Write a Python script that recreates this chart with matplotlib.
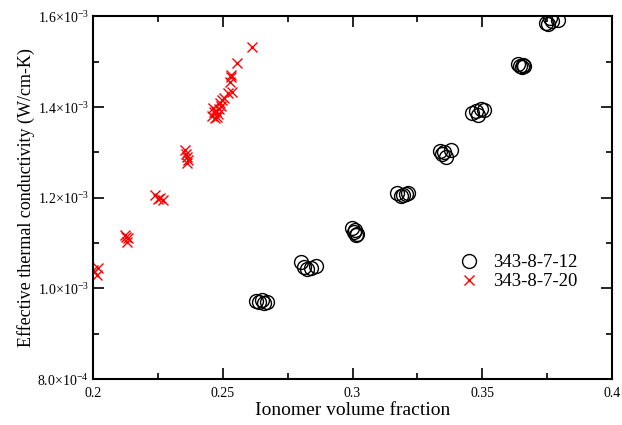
import matplotlib
matplotlib.use("Agg")
import matplotlib.pyplot as plt
from matplotlib.ticker import MultipleLocator, FixedLocator

plt.rcParams["font.family"] = ["Liberation Serif", "DejaVu Serif"]
plt.rcParams["mathtext.fontset"] = "custom"
plt.rcParams["mathtext.rm"] = "Liberation Serif"

# 343-8-7-12 (circles), conductivity in 1e-3 W/cm-K
x_12 = [0.2628, 0.2640, 0.2650, 0.2660, 0.2670,
        0.2800, 0.2812, 0.2825, 0.2840, 0.2860,
        0.2998, 0.3005, 0.3012, 0.3017, 0.3010,
        0.3172, 0.3185, 0.3195, 0.3205, 0.3214,
        0.3337, 0.3345, 0.3352, 0.3362, 0.3380,
        0.3462, 0.3475, 0.3485, 0.3495, 0.3505,
        0.3638, 0.3645, 0.3652, 0.3658, 0.3662,
        0.3745, 0.3752, 0.3762, 0.3770, 0.3790]
y_12 = [0.973, 0.969, 0.975, 0.968, 0.970,
        1.058, 1.046, 1.043, 1.045, 1.050,
        1.133, 1.125, 1.118, 1.120, 1.128,
        1.210, 1.204, 1.206, 1.208, 1.210,
        1.302, 1.296, 1.300, 1.290, 1.304,
        1.386, 1.392, 1.382, 1.396, 1.394,
        1.494, 1.490, 1.488, 1.492, 1.490,
        1.585, 1.582, 1.597, 1.590, 1.591]

# 343-8-7-20 (crosses)
x_20 = [0.2000, 0.2015, 0.2019, 0.2005,
        0.2123, 0.2135, 0.2130, 0.2128,
        0.2239, 0.2250, 0.2258, 0.2270,
        0.2355, 0.2362, 0.2366, 0.2362, 0.2358,
        0.2459, 0.2463, 0.2466, 0.2470, 0.2475, 0.2478, 0.2482,
        0.2485, 0.2489, 0.2493, 0.2497, 0.2505,
        0.2520, 0.2528, 0.2536, 0.2530, 0.2533,
        0.2555, 0.2613]
y_20 = [1.040, 1.029, 1.044, 1.036,
        1.117, 1.110, 1.102, 1.114,
        1.205, 1.197, 1.199, 1.194,
        1.304, 1.289, 1.282, 1.276, 1.296,
        1.381, 1.397, 1.388, 1.375, 1.390, 1.377, 1.384,
        1.395, 1.408, 1.402, 1.415, 1.420,
        1.430, 1.454, 1.432, 1.465, 1.470,
        1.496, 1.531]

y_ticks = [0.8, 1.0, 1.2, 1.4, 1.6]
y_tick_labels = [r"8.0×10$^{\mathregular{-4}}$", r"1.0×10$^{\mathregular{-3}}$",
                 r"1.2×10$^{\mathregular{-3}}$", r"1.4×10$^{\mathregular{-3}}$",
                 r"1.6×10$^{\mathregular{-3}}$"]
x_ticks = [0.2, 0.25, 0.3, 0.35, 0.4]
x_tick_labels = ["0.2", "0.25", "0.3", "0.35", "0.4"]

fig = plt.figure(figsize=(6.22, 4.25), dpi=100)
ax = fig.add_axes([0.1495, 0.108, 0.8345, 0.854])

ax.plot(x_12, y_12, linestyle="none", marker="o", markersize=10,
        markerfacecolor="none", markeredgecolor="black", markeredgewidth=1.0,
        label="343-8-7-12")
ax.plot(x_20, y_20, linestyle="none", marker="x", markersize=7,
        color="red", markeredgewidth=1.0, label="343-8-7-20")

ax.set_xlim(0.2, 0.4)
ax.set_ylim(0.8, 1.6)
ax.xaxis.set_major_locator(FixedLocator(x_ticks))
ax.set_xticklabels(x_tick_labels)
ax.xaxis.set_minor_locator(MultipleLocator(0.025))
ax.yaxis.set_major_locator(FixedLocator(y_ticks))
ax.set_yticklabels(y_tick_labels)
ax.yaxis.set_minor_locator(MultipleLocator(0.1))

ax.tick_params(which="both", direction="in", top=True, right=True, width=1.2)
ax.tick_params(which="major", length=8)
ax.tick_params(which="minor", length=4)
ax.tick_params(axis="x", labelsize=10, pad=6)
ax.tick_params(axis="y", labelsize=10, pad=3)
for s in ax.spines.values():
    s.set_linewidth(1.5)

ax.set_xlabel("Ionomer volume fraction", fontsize=14, labelpad=1)
ax.set_ylabel("Effective thermal conductivity (W/cm-K)", fontsize=13, labelpad=2)

ax.legend(loc="center left", bbox_to_anchor=(0.67, 0.295), frameon=False,
          fontsize=13.5, handletextpad=0.7, labelspacing=0.1, handlelength=1.2)

fig.savefig("out.png", dpi=100)
